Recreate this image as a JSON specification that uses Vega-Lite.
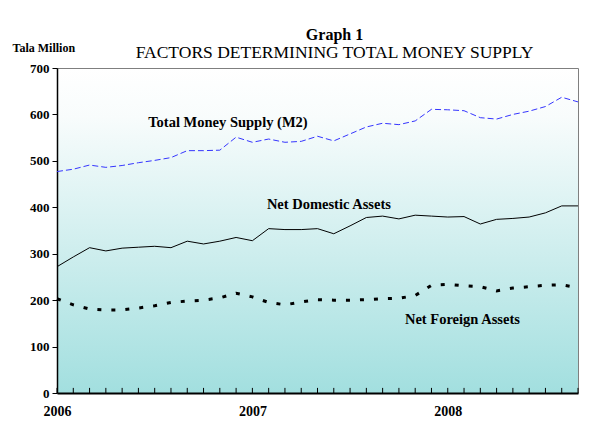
{
  "$schema": "https://vega.github.io/schema/vega-lite/v6.json",
  "width": 521,
  "height": 325,
  "autosize": {"type": "none"},
  "padding": {"left": 57, "top": 68, "right": 18, "bottom": 32},
  "background": "white",
  "title": {
    "text": "Graph 1",
    "subtitle": "FACTORS DETERMINING TOTAL MONEY SUPPLY",
    "anchor": "middle",
    "dx": 17,
    "offset": -20,
    "font": "Liberation Serif",
    "fontSize": 16,
    "fontWeight": "bold",
    "color": "black",
    "subtitleFont": "Liberation Serif",
    "subtitleFontSize": 17.5,
    "subtitleColor": "black",
    "subtitlePadding": 1
  },
  "config": {
    "view": {
      "stroke": "#7f7f7f",
      "strokeWidth": 1,
      "fill": {
        "gradient": "linear",
        "x1": 0, "y1": 0, "x2": 0, "y2": 1,
        "stops": [
          {"offset": 0, "color": "#ffffff"},
          {"offset": 0.15, "color": "#f8fcfc"},
          {"offset": 1, "color": "#a2dfdf"}
        ]
      }
    }
  },
  "data": {
    "values": [
      {"m": 0, "m2": 477, "nda": 272, "nfa": 203},
      {"m": 1, "m2": 482, "nda": 293, "nfa": 190},
      {"m": 2, "m2": 491, "nda": 313, "nfa": 181},
      {"m": 3, "m2": 486, "nda": 306, "nfa": 179},
      {"m": 4, "m2": 490, "nda": 312, "nfa": 179},
      {"m": 5, "m2": 496, "nda": 314, "nfa": 183},
      {"m": 6, "m2": 501, "nda": 316, "nfa": 188},
      {"m": 7, "m2": 507, "nda": 313, "nfa": 195},
      {"m": 8, "m2": 522, "nda": 327, "nfa": 198},
      {"m": 9, "m2": 522, "nda": 321, "nfa": 200},
      {"m": 10, "m2": 523, "nda": 327, "nfa": 205},
      {"m": 11, "m2": 551, "nda": 335, "nfa": 215},
      {"m": 12, "m2": 540, "nda": 328, "nfa": 207},
      {"m": 13, "m2": 547, "nda": 354, "nfa": 195},
      {"m": 14, "m2": 540, "nda": 352, "nfa": 190},
      {"m": 15, "m2": 542, "nda": 352, "nfa": 196},
      {"m": 16, "m2": 553, "nda": 354, "nfa": 201},
      {"m": 17, "m2": 543, "nda": 343, "nfa": 200},
      {"m": 18, "m2": 558, "nda": 360, "nfa": 200},
      {"m": 19, "m2": 573, "nda": 378, "nfa": 201},
      {"m": 20, "m2": 581, "nda": 381, "nfa": 203},
      {"m": 21, "m2": 578, "nda": 375, "nfa": 204},
      {"m": 22, "m2": 586, "nda": 383, "nfa": 210},
      {"m": 23, "m2": 611, "nda": 381, "nfa": 232},
      {"m": 24, "m2": 610, "nda": 379, "nfa": 234},
      {"m": 25, "m2": 608, "nda": 380, "nfa": 231},
      {"m": 26, "m2": 593, "nda": 364, "nfa": 229},
      {"m": 27, "m2": 590, "nda": 374, "nfa": 220},
      {"m": 28, "m2": 600, "nda": 376, "nfa": 226},
      {"m": 29, "m2": 607, "nda": 379, "nfa": 229},
      {"m": 30, "m2": 617, "nda": 388, "nfa": 232},
      {"m": 31, "m2": 637, "nda": 403, "nfa": 233},
      {"m": 32, "m2": 627, "nda": 403, "nfa": 227}
    ]
  },
  "layer": [
    {
      "mark": {"type": "rule", "color": "black", "strokeWidth": 1},
      "encoding": {
        "x": {
          "field": "m",
          "type": "quantitative",
          "scale": {"domain": [0, 32], "nice": false, "zero": false},
          "axis": {
            "title": null,
            "values": [0, 12, 24],
            "labelExpr": "datum.value == 0 ? '2006' : datum.value == 12 ? '2007' : '2008'",
            "grid": false,
            "ticks": false,
            "domainColor": "black",
            "domainWidth": 2,
            "labelFont": "Liberation Serif",
            "labelFontSize": 14,
            "labelFontWeight": "bold",
            "labelColor": "black",
            "labelPadding": 11,
            "labelFlush": false,
            "labelOverlap": false
          }
        },
        "y": {
          "datum": 0,
          "type": "quantitative",
          "scale": {"domain": [0, 700], "nice": false},
          "axis": {
            "title": "Tala Million",
            "values": [0, 100, 200, 300, 400, 500, 600, 700],
            "grid": false,
            "tickSize": 5,
            "tickColor": "black",
            "domainColor": "black",
            "domainWidth": 1.5,
            "labelFont": "Liberation Serif",
            "labelFontSize": 13,
            "labelFontWeight": "bold",
            "labelColor": "black",
            "labelPadding": 3,
            "titleAngle": 0,
            "titleAlign": "left",
            "titleBaseline": "alphabetic",
            "titleX": -45,
            "titleY": -17,
            "titleFont": "Liberation Serif",
            "titleFontSize": 12,
            "titleFontWeight": "bold",
            "titleColor": "black"
          }
        },
        "y2": {"datum": 11}
      }
    },
    {
      "mark": {"type": "line", "color": "#3535ff", "strokeWidth": 1, "strokeDash": [6, 3]},
      "encoding": {"x": {"field": "m", "type": "quantitative"}, "y": {"field": "m2", "type": "quantitative"}}
    },
    {
      "mark": {"type": "line", "color": "black", "strokeWidth": 1},
      "encoding": {"x": {"field": "m", "type": "quantitative"}, "y": {"field": "nda", "type": "quantitative"}}
    },
    {
      "mark": {"type": "line", "color": "black", "strokeWidth": 3, "strokeDash": [4, 10]},
      "encoding": {"x": {"field": "m", "type": "quantitative"}, "y": {"field": "nfa", "type": "quantitative"}}
    },
    {
      "data": {"values": [{"label": "Total Money Supply (M2)"}]},
      "mark": {"type": "text", "font": "Liberation Serif", "fontSize": 14.5, "fontWeight": "bold", "color": "black", "align": "center", "baseline": "middle"},
      "encoding": {"x": {"datum": 10.5, "type": "quantitative"}, "y": {"datum": 581, "type": "quantitative"}, "text": {"field": "label", "type": "nominal"}}
    },
    {
      "data": {"values": [{"label": "Net Domestic Assets"}]},
      "mark": {"type": "text", "font": "Liberation Serif", "fontSize": 14.5, "fontWeight": "bold", "color": "black", "align": "center", "baseline": "middle"},
      "encoding": {"x": {"datum": 16.7, "type": "quantitative"}, "y": {"datum": 405, "type": "quantitative"}, "text": {"field": "label", "type": "nominal"}}
    },
    {
      "data": {"values": [{"label": "Net Foreign Assets"}]},
      "mark": {"type": "text", "font": "Liberation Serif", "fontSize": 14.5, "fontWeight": "bold", "color": "black", "align": "center", "baseline": "middle"},
      "encoding": {"x": {"datum": 24.9, "type": "quantitative"}, "y": {"datum": 157, "type": "quantitative"}, "text": {"field": "label", "type": "nominal"}}
    }
  ]
}
